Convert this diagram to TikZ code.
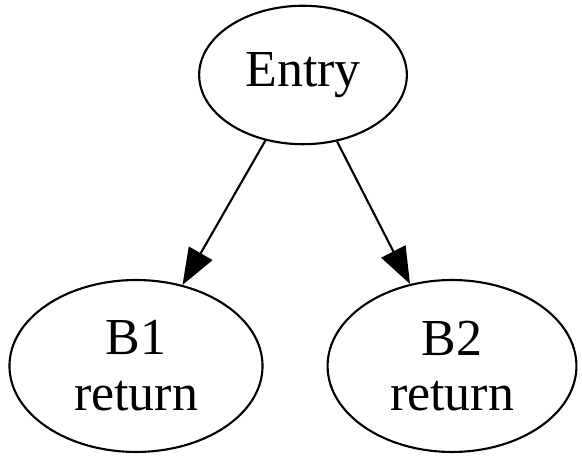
\documentclass[tikz,border=0pt]{standalone}
\usepackage{fontspec}
\setmainfont{Liberation Serif}
\usetikzlibrary{shapes.geometric,arrows.meta}
\begin{document}
\begin{tikzpicture}[x=0.26pt,y=-0.26pt,
  gnode/.style={draw,ellipse,inner sep=0pt,line width=0.55pt,font=\fontsize{13.5}{14.5}\selectfont,align=center},
  garrow/.style={line width=0.55pt,-{Triangle[length=9.5pt,width=7pt]}}]
\useasboundingbox (0,0) rectangle (582,456);
\node[gnode,minimum width=54pt,minimum height=36pt] (entry) at (303,75) {Entry};
\node[gnode,minimum width=65.8pt,minimum height=44.7pt] (b1) at (136,366) {B1\\return};
\node[gnode,minimum width=64.7pt,minimum height=44.7pt] (b2) at (452,366) {B2\\return};
\draw[garrow] (entry) -- (b1);
\draw[garrow] (entry) -- (b2);
\end{tikzpicture}
\end{document}
